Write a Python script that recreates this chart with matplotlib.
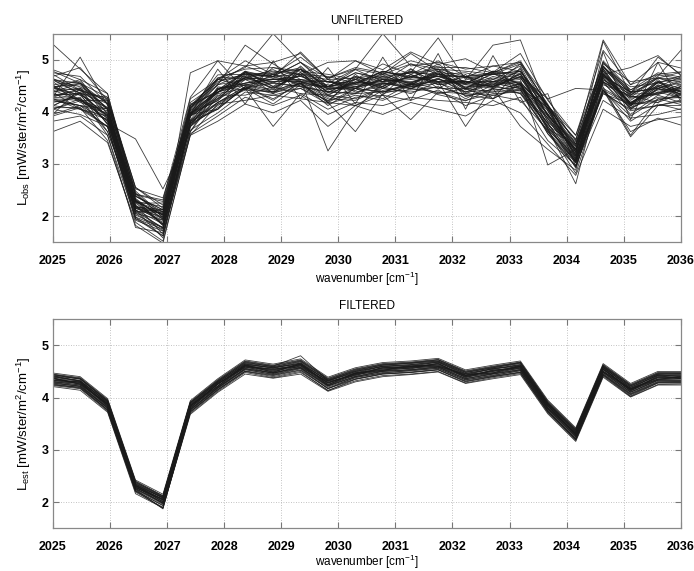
import matplotlib
matplotlib.use("Agg")
import matplotlib.pyplot as plt

# Spectral sample positions [cm^-1]
wavenumber = [2025.00, 2025.48, 2025.96, 2026.45, 2026.93, 2027.41, 2027.89, 2028.37,
              2028.86, 2029.34, 2029.82, 2030.30, 2030.78, 2031.27, 2031.75, 2032.23,
              2032.71, 2033.19, 2033.67, 2034.16, 2034.64, 2035.12, 2035.60, 2036.08]

# Observed radiances, one list per spectrum [mW/ster/m^2/cm^-1]
unfiltered = [
    [4.52, 4.18, 4.02, 2.31, 1.84, 3.98, 4.21, 4.77, 4.48, 4.71, 4.62, 4.38, 4.49, 4.83, 4.52, 4.61, 4.74, 4.45, 4.08, 3.11, 4.79, 4.12, 4.57, 4.28],
    [4.11, 4.38, 3.77, 2.08, 2.12, 3.71, 4.48, 4.42, 4.73, 4.49, 4.21, 4.66, 4.38, 4.51, 4.82, 4.29, 4.44, 4.75, 3.74, 3.38, 4.52, 4.31, 4.18, 4.55],
    [4.64, 4.41, 4.22, 2.45, 1.97, 4.12, 4.38, 4.65, 4.81, 4.58, 4.49, 4.75, 4.62, 4.44, 4.71, 4.68, 4.51, 4.92, 4.15, 3.22, 4.88, 4.36, 4.48, 4.71],
    [3.95, 4.12, 3.71, 1.92, 1.71, 3.82, 4.05, 4.48, 4.22, 4.58, 4.31, 4.12, 4.41, 4.52, 4.33, 4.21, 4.45, 4.35, 3.62, 3.05, 4.41, 3.92, 4.25, 4.12],
    [4.38, 4.55, 3.88, 2.18, 2.05, 3.92, 4.62, 4.51, 4.38, 4.88, 4.42, 4.55, 4.71, 4.48, 4.62, 4.55, 4.78, 4.52, 3.88, 3.28, 4.71, 4.18, 4.51, 4.35],
    [5.30, 4.82, 4.35, 2.42, 2.31, 4.28, 4.98, 4.88, 4.95, 5.12, 4.62, 4.98, 4.81, 5.15, 4.91, 5.02, 4.76, 5.12, 4.22, 3.55, 5.18, 4.52, 4.95, 4.82],
    [3.62, 3.82, 3.41, 1.88, 1.52, 3.55, 3.82, 4.15, 3.98, 4.22, 3.72, 4.12, 3.95, 4.18, 4.05, 3.92, 4.22, 3.98, 3.38, 2.78, 4.05, 3.72, 3.85, 3.92],
    [4.28, 5.05, 4.12, 2.28, 2.08, 3.95, 4.82, 4.15, 4.98, 4.25, 4.85, 4.15, 5.05, 4.22, 5.12, 4.05, 5.08, 4.18, 4.35, 2.95, 5.15, 3.85, 4.95, 4.05],
    [4.72, 4.42, 4.25, 2.52, 2.35, 4.05, 4.71, 4.72, 4.68, 4.95, 4.48, 4.81, 4.58, 4.92, 4.72, 4.66, 4.88, 4.78, 4.12, 3.45, 4.95, 4.38, 4.71, 4.62],
    [4.05, 4.21, 3.62, 2.12, 1.58, 3.75, 4.08, 4.45, 4.15, 4.52, 4.25, 4.22, 4.45, 4.38, 4.48, 4.32, 4.25, 4.52, 3.58, 3.02, 4.35, 4.05, 4.12, 4.25],
    [4.81, 4.62, 4.35, 2.28, 2.18, 4.08, 4.65, 4.82, 4.85, 4.78, 4.72, 4.62, 4.92, 4.72, 4.98, 4.68, 4.75, 4.95, 4.25, 3.38, 4.98, 4.42, 4.75, 4.65],
    [4.38, 4.46, 4.08, 2.18, 1.88, 4.02, 4.52, 5.28, 4.92, 4.62, 4.58, 4.52, 4.78, 4.68, 4.82, 4.52, 4.72, 4.65, 4.08, 3.22, 4.88, 4.22, 4.58, 4.42],
    [4.25, 4.12, 3.98, 2.25, 1.85, 3.95, 4.22, 4.62, 4.38, 4.61, 3.25, 4.05, 4.55, 4.48, 4.72, 4.38, 4.58, 4.48, 3.92, 3.08, 4.72, 4.08, 4.45, 4.32],
    [4.45, 4.32, 3.78, 3.48, 2.52, 3.62, 4.45, 4.55, 4.68, 4.52, 4.48, 4.62, 4.45, 4.72, 4.52, 4.58, 4.48, 4.72, 3.82, 3.28, 4.62, 4.28, 4.35, 4.52],
    [4.33, 4.25, 3.82, 2.05, 1.72, 4.75, 4.98, 4.42, 4.85, 4.71, 4.38, 4.48, 4.62, 4.58, 4.68, 4.48, 4.52, 4.58, 3.95, 3.18, 4.58, 4.18, 4.38, 4.42],
    [4.32, 4.35, 3.92, 2.32, 1.95, 3.92, 4.25, 4.68, 4.45, 4.75, 4.38, 4.58, 4.52, 4.68, 4.58, 4.58, 4.48, 4.68, 4.25, 4.45, 4.42, 4.12, 4.45, 4.28],
    [4.62, 4.55, 4.15, 2.38, 2.12, 4.08, 4.62, 4.85, 5.50, 4.95, 4.65, 4.82, 5.50, 4.88, 4.95, 4.82, 4.88, 4.95, 4.12, 3.45, 5.38, 4.52, 4.72, 4.78],
    [4.05, 3.95, 3.72, 1.98, 1.78, 3.72, 4.12, 4.45, 3.72, 4.35, 4.05, 4.28, 4.32, 3.85, 4.38, 4.22, 4.35, 4.38, 3.62, 2.95, 4.42, 3.52, 4.12, 4.12],
    [4.18, 4.28, 3.55, 1.95, 1.62, 3.65, 3.98, 4.38, 4.32, 4.45, 4.15, 4.32, 4.22, 4.45, 4.38, 4.35, 4.32, 4.42, 3.58, 2.95, 4.38, 4.02, 4.12, 4.22],
    [4.61, 4.35, 4.28, 2.41, 2.28, 4.12, 4.62, 4.65, 4.75, 4.82, 4.58, 4.55, 4.78, 4.65, 4.92, 4.55, 4.78, 4.72, 4.12, 3.25, 4.95, 4.32, 4.65, 4.55],
    [3.95, 4.45, 3.75, 2.32, 1.82, 3.95, 4.05, 4.75, 4.35, 4.82, 4.18, 4.72, 4.32, 4.82, 4.45, 4.72, 4.25, 4.85, 3.68, 3.35, 4.82, 4.12, 4.62, 4.18],
    [4.22, 4.12, 3.85, 2.08, 1.78, 3.78, 4.18, 4.48, 4.35, 4.55, 4.28, 4.45, 4.38, 4.52, 4.58, 3.72, 4.48, 4.42, 3.72, 3.05, 4.48, 3.55, 4.25, 4.28],
    [4.48, 4.52, 4.05, 2.15, 1.98, 3.98, 4.42, 4.78, 4.65, 4.82, 4.48, 4.62, 4.68, 4.75, 5.42, 4.62, 5.28, 5.38, 4.02, 3.18, 5.35, 4.35, 5.05, 4.65],
    [4.28, 4.25, 3.95, 2.18, 1.95, 3.92, 4.38, 4.62, 4.58, 4.62, 4.45, 4.48, 4.55, 4.52, 4.62, 4.52, 4.45, 3.72, 3.28, 2.88, 4.72, 4.32, 4.68, 5.28],
    [4.75, 4.68, 4.15, 2.48, 2.01, 4.15, 4.38, 4.75, 4.72, 4.85, 4.48, 4.75, 4.65, 4.75, 4.72, 4.75, 4.62, 4.88, 3.92, 3.42, 4.68, 4.38, 4.45, 4.62],
    [4.12, 4.05, 3.72, 1.98, 1.62, 3.82, 4.15, 4.45, 4.38, 4.55, 4.18, 4.45, 4.38, 4.55, 4.45, 4.45, 4.38, 4.55, 3.68, 3.05, 4.45, 4.15, 4.22, 4.35],
    [4.48, 4.32, 4.08, 2.18, 2.08, 3.82, 4.38, 4.52, 4.58, 4.58, 4.45, 4.45, 4.62, 4.55, 4.75, 4.42, 4.58, 4.52, 3.68, 2.62, 4.68, 4.15, 4.48, 4.32],
    [4.32, 4.35, 3.92, 2.15, 1.92, 3.95, 4.38, 4.55, 4.62, 4.58, 4.42, 4.52, 4.58, 4.62, 4.68, 4.58, 4.58, 4.62, 2.98, 3.28, 4.72, 4.18, 4.42, 4.45],
    [4.48, 4.55, 4.05, 2.38, 2.08, 4.08, 4.42, 4.75, 4.55, 4.82, 4.45, 4.68, 4.58, 4.78, 4.68, 4.68, 4.58, 4.78, 3.95, 3.35, 4.68, 4.38, 4.45, 4.58],
    [4.25, 4.05, 3.92, 2.05, 1.92, 3.75, 4.35, 4.45, 4.55, 4.48, 4.38, 4.35, 4.55, 4.45, 4.65, 4.35, 4.55, 4.45, 3.88, 3.05, 4.65, 4.05, 4.38, 4.25],
    [4.52, 4.58, 4.05, 2.28, 2.02, 4.05, 4.58, 4.72, 4.68, 5.15, 4.62, 4.65, 4.72, 5.12, 4.78, 4.65, 4.72, 4.78, 4.12, 3.32, 4.85, 4.42, 4.65, 4.62],
    [4.25, 4.22, 3.88, 2.12, 1.85, 3.78, 4.25, 4.52, 4.42, 4.55, 4.18, 3.62, 4.35, 4.48, 4.55, 4.38, 4.42, 4.48, 3.78, 3.08, 4.55, 4.08, 4.28, 4.28],
    [4.45, 4.42, 4.05, 2.28, 2.02, 3.95, 4.42, 4.65, 4.62, 4.68, 4.48, 4.55, 4.58, 4.65, 4.68, 4.55, 4.58, 4.65, 3.95, 3.22, 4.72, 4.85, 5.08, 4.62],
    [4.08, 4.08, 3.72, 2.02, 1.78, 3.72, 4.18, 4.42, 4.38, 4.45, 4.22, 4.35, 4.38, 4.42, 4.48, 4.32, 4.38, 4.42, 3.72, 3.02, 4.42, 3.62, 3.88, 3.72],
    [4.42, 4.21, 4.05, 2.15, 2.05, 3.85, 4.45, 4.55, 4.62, 4.62, 4.52, 4.45, 4.65, 4.55, 4.75, 4.45, 4.65, 4.55, 4.02, 3.15, 4.75, 4.15, 4.52, 4.35],
    [4.62, 4.48, 4.18, 2.38, 2.12, 4.12, 4.52, 4.75, 4.68, 4.72, 4.95, 4.98, 4.72, 4.75, 4.82, 4.68, 4.72, 4.78, 4.08, 3.38, 4.82, 4.38, 4.58, 4.62],
    [4.32, 4.41, 3.86, 2.28, 1.82, 3.98, 4.26, 4.66, 4.46, 4.71, 4.33, 4.57, 4.49, 4.68, 4.58, 4.54, 4.49, 4.67, 3.82, 3.26, 4.58, 4.26, 4.34, 4.46],
    [4.21, 4.12, 4.06, 2.08, 2.06, 3.79, 4.44, 4.51, 4.64, 4.55, 4.48, 4.41, 4.63, 4.52, 4.73, 4.43, 4.62, 4.51, 3.97, 3.09, 4.73, 4.11, 4.49, 4.31],
    [4.48, 4.22, 3.94, 2.34, 1.93, 3.91, 4.29, 4.71, 4.43, 4.76, 4.31, 4.62, 4.45, 4.71, 4.56, 4.59, 4.46, 4.73, 3.86, 3.29, 4.57, 4.29, 4.33, 4.51],
    [4.05, 4.25, 3.82, 2.12, 1.76, 3.84, 4.18, 4.48, 4.56, 4.49, 4.39, 4.36, 4.57, 4.44, 4.64, 4.38, 4.56, 4.44, 3.79, 3.04, 4.66, 4.05, 4.44, 4.24],
    [4.62, 4.36, 4.16, 2.18, 2.12, 3.96, 4.52, 4.62, 4.72, 4.58, 4.58, 4.48, 4.68, 4.56, 4.78, 4.46, 4.68, 4.56, 4.05, 3.16, 4.78, 4.16, 4.56, 4.36],
    [4.28, 4.45, 3.98, 2.42, 1.98, 4.02, 4.36, 4.78, 4.49, 4.82, 4.36, 4.68, 4.48, 4.78, 4.58, 4.66, 4.48, 4.82, 3.92, 3.38, 4.61, 4.34, 4.36, 4.56],
    [4.38, 4.05, 3.85, 1.95, 1.75, 3.62, 4.32, 4.32, 4.48, 4.35, 4.32, 4.25, 4.48, 4.35, 4.58, 4.25, 4.52, 4.35, 3.78, 2.92, 4.58, 3.95, 4.32, 4.15],
    [4.78, 4.55, 4.28, 2.55, 2.21, 4.18, 4.55, 4.88, 4.68, 4.95, 4.55, 4.82, 4.72, 4.92, 4.82, 4.78, 4.72, 4.92, 4.05, 3.48, 4.85, 4.48, 4.55, 4.72],
    [3.82, 3.92, 3.55, 1.78, 1.68, 3.55, 4.15, 4.22, 4.32, 4.25, 4.18, 4.12, 4.32, 4.22, 4.42, 4.12, 4.32, 4.22, 3.65, 2.82, 4.42, 3.82, 4.15, 4.02],
    [4.45, 4.62, 3.95, 2.28, 2.02, 3.95, 4.42, 4.65, 4.62, 4.68, 4.58, 4.45, 4.75, 4.52, 4.78, 4.45, 4.75, 4.52, 4.08, 3.12, 4.82, 4.15, 4.58, 4.35],
    [4.12, 4.35, 3.62, 2.22, 1.65, 3.78, 4.05, 4.48, 4.25, 4.55, 4.12, 4.45, 4.25, 4.55, 4.35, 4.45, 4.25, 4.55, 3.65, 3.15, 4.35, 4.15, 4.18, 4.38],
    [4.58, 4.22, 4.22, 2.25, 2.25, 3.98, 4.65, 4.68, 4.78, 4.72, 4.68, 4.55, 4.78, 4.65, 4.88, 4.55, 4.78, 4.68, 4.12, 3.28, 4.88, 4.28, 4.65, 4.48],
    [3.92, 4.08, 3.45, 1.82, 1.48, 3.58, 3.92, 4.28, 4.12, 4.32, 3.95, 4.18, 4.12, 4.28, 4.22, 4.18, 4.12, 4.28, 3.45, 2.98, 4.22, 3.88, 3.95, 4.08],
    [4.68, 4.85, 4.22, 2.55, 2.15, 4.25, 4.62, 4.98, 4.72, 5.05, 4.65, 4.85, 4.75, 4.98, 4.85, 4.85, 4.75, 4.98, 4.12, 3.55, 4.92, 4.58, 4.65, 4.78],
]

# Estimated radiances after filtering [mW/ster/m^2/cm^-1]
filtered = [
    [4.45, 4.38, 3.96, 2.40, 2.12, 3.92, 4.34, 4.70, 4.62, 4.72, 4.37, 4.55, 4.65, 4.68, 4.73, 4.51, 4.60, 4.68, 3.93, 3.40, 4.63, 4.25, 4.48, 4.48],
    [4.23, 4.17, 3.74, 2.19, 1.90, 3.70, 4.12, 4.48, 4.38, 4.48, 4.14, 4.32, 4.42, 4.45, 4.50, 4.28, 4.38, 4.46, 3.71, 3.18, 4.41, 4.02, 4.25, 4.26],
    [4.40, 4.32, 3.92, 2.34, 2.08, 3.87, 4.30, 4.64, 4.57, 4.68, 4.32, 4.50, 4.60, 4.63, 4.69, 4.46, 4.55, 4.63, 3.88, 3.35, 4.58, 4.20, 4.43, 4.43],
    [4.30, 4.24, 3.80, 2.26, 1.98, 3.77, 4.19, 4.55, 4.47, 4.57, 4.22, 4.40, 4.50, 4.53, 4.58, 4.36, 4.45, 4.53, 3.78, 3.25, 4.48, 4.10, 4.33, 4.33],
    [4.36, 4.27, 3.87, 2.29, 2.03, 3.83, 4.25, 4.61, 4.51, 4.63, 4.27, 4.46, 4.54, 4.59, 4.62, 4.42, 4.50, 4.59, 3.83, 3.29, 4.54, 4.15, 4.38, 4.37],
    [4.44, 4.35, 3.93, 2.38, 2.10, 3.90, 4.31, 4.67, 4.60, 4.80, 4.33, 4.52, 4.63, 4.66, 4.72, 4.49, 4.58, 4.67, 3.90, 3.38, 4.61, 4.23, 4.46, 4.46],
    [4.25, 4.18, 3.76, 2.21, 1.88, 3.72, 4.14, 4.50, 4.40, 4.50, 4.13, 4.35, 4.45, 4.48, 4.53, 4.30, 4.40, 4.48, 3.73, 3.20, 4.43, 4.03, 4.28, 4.28],
    [4.37, 4.31, 3.88, 2.32, 2.05, 3.84, 4.26, 4.62, 4.54, 4.64, 4.29, 4.47, 4.57, 4.60, 4.65, 4.43, 4.52, 4.60, 3.85, 3.32, 4.55, 4.17, 4.40, 4.40],
    [4.33, 4.26, 3.84, 2.28, 2.01, 3.80, 4.22, 4.58, 4.50, 4.60, 4.25, 4.43, 4.53, 4.56, 4.61, 4.39, 4.48, 4.56, 3.81, 3.28, 4.51, 4.13, 4.36, 4.36],
    [4.47, 4.40, 3.98, 2.42, 2.15, 3.94, 4.36, 4.72, 4.64, 4.74, 4.39, 4.57, 4.67, 4.70, 4.75, 4.53, 4.62, 4.70, 3.95, 3.42, 4.65, 4.27, 4.50, 4.50],
    [4.21, 4.14, 3.72, 2.16, 1.89, 3.68, 4.10, 4.45, 4.37, 4.45, 4.12, 4.30, 4.40, 4.44, 4.49, 4.27, 4.36, 4.44, 3.69, 3.16, 4.39, 4.01, 4.24, 4.24],
    [4.41, 4.36, 3.94, 2.36, 2.09, 3.90, 4.32, 4.66, 4.59, 4.69, 4.35, 4.51, 4.62, 4.66, 4.70, 4.48, 4.57, 4.66, 3.89, 3.37, 4.60, 4.22, 4.45, 4.44],
    [4.28, 4.21, 3.79, 2.24, 1.96, 3.75, 4.17, 4.53, 4.45, 4.56, 4.20, 4.38, 4.48, 4.51, 4.56, 4.34, 4.43, 4.51, 3.76, 3.23, 4.46, 4.08, 4.31, 4.31],
    [4.39, 4.32, 3.90, 2.34, 2.07, 3.86, 4.28, 4.64, 4.56, 4.66, 4.31, 4.49, 4.59, 4.62, 4.67, 4.45, 4.54, 4.62, 3.87, 3.34, 4.57, 4.19, 4.42, 4.42],
    [4.31, 4.24, 3.82, 2.26, 1.99, 3.78, 4.20, 4.56, 4.48, 4.58, 4.23, 4.41, 4.51, 4.54, 4.59, 4.37, 4.46, 4.54, 3.79, 3.26, 4.49, 4.11, 4.34, 4.34],
    [4.36, 4.29, 3.87, 2.31, 2.04, 3.83, 4.25, 4.61, 4.53, 4.63, 4.28, 4.46, 4.56, 4.59, 4.64, 4.42, 4.51, 4.59, 3.84, 3.31, 4.54, 4.16, 4.39, 4.39],
    [4.26, 4.19, 3.77, 2.21, 1.94, 3.73, 4.15, 4.51, 4.43, 4.53, 4.18, 4.36, 4.46, 4.49, 4.54, 4.32, 4.41, 4.49, 3.74, 3.21, 4.44, 4.06, 4.29, 4.29],
    [4.44, 4.37, 3.95, 2.39, 2.12, 3.91, 4.33, 4.69, 4.61, 4.71, 4.36, 4.54, 4.64, 4.67, 4.72, 4.50, 4.59, 4.67, 3.92, 3.39, 4.62, 4.24, 4.47, 4.47],
    [4.33, 4.30, 3.85, 2.33, 2.00, 3.85, 4.22, 4.63, 4.48, 4.66, 4.24, 4.48, 4.52, 4.62, 4.60, 4.45, 4.47, 4.62, 3.80, 3.33, 4.50, 4.18, 4.35, 4.41],
    [4.38, 4.25, 3.89, 2.27, 2.06, 3.79, 4.27, 4.57, 4.56, 4.58, 4.31, 4.42, 4.58, 4.55, 4.66, 4.38, 4.53, 4.55, 3.86, 3.27, 4.57, 4.12, 4.42, 4.35],
    [4.30, 4.28, 3.83, 2.30, 1.97, 3.81, 4.21, 4.59, 4.46, 4.61, 4.23, 4.44, 4.51, 4.57, 4.59, 4.40, 4.46, 4.57, 3.79, 3.29, 4.49, 4.14, 4.34, 4.37],
    [4.42, 4.31, 3.91, 2.31, 2.09, 3.85, 4.29, 4.62, 4.58, 4.64, 4.33, 4.47, 4.60, 4.60, 4.68, 4.43, 4.56, 4.60, 3.88, 3.30, 4.59, 4.17, 4.44, 4.39],
    [4.27, 4.22, 3.80, 2.24, 1.87, 3.76, 4.18, 4.54, 4.44, 4.55, 4.17, 4.39, 4.47, 4.52, 4.56, 4.34, 4.42, 4.52, 3.75, 3.19, 4.45, 4.07, 4.30, 4.31],
    [4.34, 4.29, 3.86, 2.32, 2.04, 3.84, 4.26, 4.60, 4.52, 4.62, 4.28, 4.45, 4.55, 4.58, 4.63, 4.41, 4.50, 4.58, 3.84, 3.31, 4.53, 4.16, 4.38, 4.38],
    [4.40, 4.33, 3.90, 2.35, 2.08, 3.88, 4.29, 4.65, 4.57, 4.66, 4.32, 4.50, 4.60, 4.63, 4.68, 4.46, 4.55, 4.63, 3.88, 3.35, 4.58, 4.20, 4.43, 4.43],
    [4.29, 4.22, 3.81, 2.25, 1.98, 3.77, 4.19, 4.55, 4.47, 4.57, 4.22, 4.40, 4.50, 4.53, 4.58, 4.36, 4.45, 4.53, 3.78, 3.25, 4.48, 4.10, 4.33, 4.33],
    [4.37, 4.26, 3.88, 2.28, 2.05, 3.81, 4.27, 4.59, 4.54, 4.61, 4.29, 4.44, 4.57, 4.57, 4.65, 4.40, 4.52, 4.57, 3.85, 3.28, 4.55, 4.14, 4.40, 4.37],
    [4.32, 4.30, 3.84, 2.31, 2.01, 3.84, 4.22, 4.61, 4.49, 4.64, 4.25, 4.46, 4.52, 4.60, 4.60, 4.43, 4.47, 4.60, 3.81, 3.31, 4.50, 4.16, 4.35, 4.40],
    [4.43, 4.36, 3.93, 2.37, 2.11, 3.89, 4.31, 4.68, 4.59, 4.70, 4.34, 4.53, 4.62, 4.65, 4.70, 4.48, 4.57, 4.65, 3.90, 3.37, 4.60, 4.22, 4.45, 4.46],
    [4.24, 4.20, 3.76, 2.22, 1.93, 3.73, 4.15, 4.50, 4.42, 4.52, 4.17, 4.35, 4.45, 4.48, 4.53, 4.31, 4.40, 4.48, 3.73, 3.21, 4.43, 4.05, 4.28, 4.28],
]

x_ticks = [2025, 2026, 2027, 2028, 2029, 2030, 2031, 2032, 2033, 2034, 2035, 2036]
y_ticks = [2, 3, 4, 5]

plt.rcParams['font.family'] = ['Liberation Sans', 'DejaVu Sans']
plt.rcParams['mathtext.fontset'] = 'custom'
plt.rcParams['mathtext.rm'] = 'Liberation Sans'
plt.rcParams['mathtext.it'] = 'Liberation Sans'

fig = plt.figure(figsize=(6.94, 5.71), dpi=100)
ax1 = fig.add_axes([0.076, 0.576, 0.905, 0.365])
ax2 = fig.add_axes([0.076, 0.075, 0.905, 0.366])

panels = [
    (ax1, unfiltered, 'UNFILTERED', r'L$_{\mathrm{obs}}$ [mW/ster/m$^{2}$/cm$^{-1}$]', 2),
    (ax2, filtered, 'FILTERED', r'L$_{\mathrm{est}}$ [mW/ster/m$^{2}$/cm$^{-1}$]', 0),
]

for ax, spectra, title, ylabel, xpad in panels:
    for spec in spectra:
        ax.plot(wavenumber, spec, color='#1a1a1a', lw=0.6, alpha=0.85)
    ax.set_xlim(2025, 2036)
    ax.set_ylim(1.5, 5.5)
    ax.set_xticks(x_ticks)
    ax.set_yticks(y_ticks)
    ax.grid(True, linestyle=(0, (1, 2)), color='#b0b0b0', lw=0.6)
    ax.tick_params(direction='in', top=True, right=True, length=4,
                   color='#777777', labelsize=9)
    ax.tick_params(axis='x', pad=9)
    ax.tick_params(axis='y', pad=3)
    for lab in ax.get_xticklabels() + ax.get_yticklabels():
        lab.set_fontweight('bold')
    for sp in ax.spines.values():
        sp.set_color('#888888')
        sp.set_linewidth(0.9)
    ax.set_title(title, fontsize=8.5, pad=7)
    ax.set_xlabel(r'wavenumber [cm$^{-1}$]', fontsize=8.5, labelpad=xpad)
    ax.set_ylabel(ylabel, fontsize=9.5, labelpad=6)

fig.savefig('out.png', dpi=100)
